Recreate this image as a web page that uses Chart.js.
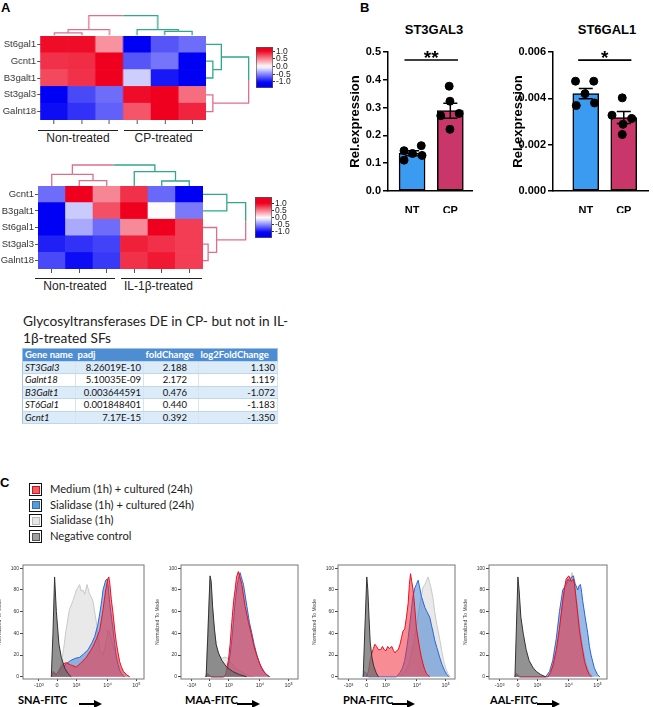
<!DOCTYPE html>
<html lang="en">
<head>
<meta charset="utf-8">
<title>Glycosyltransferases figure</title>
<script src="https://cdn.jsdelivr.net/npm/chart.js@4.4.1/dist/chart.umd.min.js"></script>
<style>
  body { margin: 0; background: #fff; }
  #page { position: relative; width: 653px; height: 707px; overflow: hidden; font-family: 'Liberation Sans', Arial, sans-serif; color: #000; }
  .abs { position: absolute; white-space: nowrap; }
  .letter { font-weight: bold; font-size: 13px; }
  .grp { font-size: 12px; color: #222; text-align: center; }
  .grp_line { border-top: 1.4px solid #222; height: 0; }
  .lato { font-family: Lato, 'Liberation Sans', sans-serif; }
  .fitc { font-weight: bold; font-size: 11px; font-family: Lato, 'Liberation Sans', sans-serif; }
  table.de { border-collapse: collapse; font-family: Lato, sans-serif; font-size: 9.5px; color: #111; border: 1px solid #9dc3e6; }
  table.de td { height: 11.5px; padding: 0 2px; border-bottom: 1px solid #bdd7ee; border-right: 1px solid #d6e4f2; line-height: 11px; }
  table.de tr.head td { background: #4f8dd3; color: #fff; font-weight: bold; border-right: 0; }
  table.de tr.alt td { background: #dcebf8; }
  table.de td.gene { font-style: italic; }
  table.de td.num { text-align: right; }
  .key { position: absolute; width: 11px; height: 11px; border: 1.3px solid #111; }
  .key i { position: absolute; left: 1.5px; top: 1.5px; width: 6px; height: 6px; border: 1px solid; }
</style>
</head>
<body>
<div id="page"></div>
<script>
// ================= DATA =================

// A - heatmaps (z-score, 3 non-treated + 3 treated samples per row)
var sample_ids = ['S1', 'S2', 'S3', 'S4', 'S5', 'S6'];

var hm1_rows = ['St6gal1', 'Gcnt1', 'B3galt1', 'St3gal3', 'Galnt18'];
var hm1_z = [
  [1.0, 1.0, 0.45, -1.1, -0.7, -0.6],
  [0.85, 0.87, 1.05, -0.7, -0.57, -1.1],
  [0.75, 0.85, 1.05, -0.2, -0.95, -1.1],
  [-1.1, -0.75, -0.6, 1.0, 1.05, 0.6],
  [-1.0, -0.85, -0.65, 0.7, 1.05, 0.9]
];
var hm1_groups = ['Non-treated', 'CP-treated'];
// dendrograms: [child a, child b, height]; leaves 0..n-1, merges numbered after
var hm1_col_tree = [[0, 1, 2.7], [6, 2, 6], [4, 5, 4.3], [3, 8, 6], [7, 9, 21]];
var hm1_col_cluster = [0, 0, 0, 1, 1, 1];
var hm1_row_tree = [[1, 2, 6.7], [0, 5, 15], [3, 4, 6.7], [6, 7, 41.7]];
var hm1_row_cluster = [1, 1, 1, 0, 0];
var hm1_scale = [-1.41, 1.29];

var hm2_rows = ['Gcnt1', 'B3galt1', 'St6gal1', 'St3gal3', 'Galnt18'];
var hm2_z = [
  [-0.6, 1.05, 0.5, 0.85, -0.62, -1.1],
  [-1.1, -0.22, 0.72, 1.1, 0.02, -0.55],
  [-1.1, -0.35, -0.6, 0.48, 1.05, 0.8],
  [-0.92, -0.85, -0.78, 0.92, 0.85, 0.8],
  [-0.75, -1.0, -0.82, 0.85, 0.95, 0.8]
];
var hm2_groups = ['Non-treated', 'IL-1\u03b2-treated'];
var hm2_col_tree = [[1, 2, 5.3], [0, 6, 11.7], [4, 5, 5], [3, 8, 14.3], [7, 9, 21]];
var hm2_col_cluster = [0, 0, 0, 1, 1, 1];
var hm2_row_tree = [[0, 1, 23.3], [3, 4, 5], [2, 6, 13.3], [5, 7, 41.7]];
var hm2_row_cluster = [1, 1, 0, 0, 0];
var hm2_scale = [-1.45, 1.5];

var scale_ticks = [1.0, 0.5, 0.0, -0.5, -1.0];

// A - table
var tbl_head = ['Gene name', 'padj', 'foldChange', 'log2FoldChange'];
var tbl_gene = ['ST3Gal3', 'Galnt18', 'B3Galt1', 'ST6Gal1', 'Gcnt1'];
var tbl_padj = ['8.26019E-10', '5.10035E-09', '0.003644591', '0.001848401', '7.17E-15'];
var tbl_fc = ['2.188', '2.172', '0.476', '0.440', '0.392'];
var tbl_log2 = ['1.130', '1.119', '-1.072', '-1.183', '-1.350'];

// B - qPCR
var bar_groups = ['NT', 'CP'];
var st3_mean = [0.136, 0.289];
var st3_sem = [0.009, 0.027];
var st3_nt = [0.145, 0.135, 0.163, 0.111, 0.128];
var st3_cp = [0.377, 0.323, 0.271, 0.279, 0.222];
var st6_mean = [0.0042, 0.00317];
var st6_sem = [0.00022, 0.00026];
var st6_nt = [0.00474, 0.00474, 0.0042, 0.00369, 0.0038];
var st6_cp = [0.00402, 0.00327, 0.00313, 0.00288, 0.00244];

// C - flow cytometry histograms, [channel, % of mode]
var legend_labels = ['Medium (1h) + cultured (24h)', 'Sialidase (1h) + cultured (24h)', 'Sialidase (1h)', 'Negative control'];
var x_tick_pos = [9, 24.5, 41, 67.5, 92];
var x_tick_lbl = ['-10\u00b3', '0', '10\u00b3', '10\u2074', '10\u2075'];
var y_tick_pos = [0, 20, 40, 60, 80, 100];

var sna_neg = [[19.6, 0], [21, 40], [22.4, 92], [23.9, 60], [26.1, 30], [28.1, 18], [31, 8], [33.8, 3], [36.6, 0]];
var sna_sial = [[22, 0], [25, 3], [28, 12], [30, 25], [32, 42], [35, 62], [38, 70], [41, 80], [43.7, 85], [45, 79], [46.6, 80], [48, 76], [50, 85], [52, 77], [55, 70], [58, 50], [60.8, 25], [63.6, 20], [66, 31], [68, 43], [69.3, 40], [72, 29], [75, 20], [77.8, 9], [82, 3], [86, 0]];
var sna_sial_cult = [[20, 0], [21.5, 4], [23, 2], [26, 4], [29.5, 9], [32.4, 12], [36, 15], [40, 17], [43.8, 18], [47, 21], [50.9, 25], [54, 31], [56.5, 37], [59, 47], [60.8, 58], [62.5, 70], [63.6, 80], [65.9, 89], [67, 90], [68, 84], [69.3, 68], [70.7, 56], [72.2, 43], [73.6, 30], [75, 18], [76.4, 11], [77.8, 6], [79.3, 3], [80.7, 1], [82, 0]];
var sna_medium = [[20, 0], [21, 5], [22.4, 4], [24, 2], [26, 6], [29.5, 12], [32.4, 13], [36, 11], [40.9, 9], [44, 12], [49.4, 18], [53, 24], [55.1, 28], [58, 35], [60.8, 43], [63.6, 62], [65.9, 80], [67.9, 91], [68.5, 92], [69.5, 85], [70.7, 71], [72.2, 58], [73.6, 43], [75, 31], [76.4, 22], [77.8, 14], [79.3, 9], [81, 5], [83.5, 2], [86.4, 0]];

var maa_neg = [[21.5, 0], [23, 40], [24.8, 93], [25.8, 88], [27, 65], [28.5, 45], [30, 30], [32, 22], [35, 15], [39, 9], [44, 5], [50, 2], [56, 0]];
var maa_sial = [[21.5, 0], [23, 45], [24.8, 90], [26, 80], [27.5, 55], [29, 38], [31, 25], [33, 19], [35, 17], [37, 18], [38.5, 18], [40, 17], [42, 14], [45, 10], [48, 7], [51, 5], [54, 3], [58, 1], [62, 0]];
var maa_medium = [[21, 0], [22.5, 2], [24, 1], [26, 0], [36, 0], [38, 2], [40.5, 15], [42, 30], [43.4, 50], [45, 70], [46.2, 80], [47.5, 92], [49, 97], [50, 93], [52, 85], [54.8, 65], [57.7, 50], [60, 40], [62, 30], [64, 22], [66.3, 15], [68, 10], [70.6, 5], [73, 2], [75, 0]];
var maa_sial_cult = [[21, 0], [22.5, 3], [24, 2], [26, 0], [37, 0], [39, 3], [42, 20], [43.5, 35], [44.8, 50], [46, 66], [47.7, 82], [49, 90], [50.5, 96], [51.5, 92], [53.4, 85], [56.3, 65], [58.5, 50], [60.6, 40], [62.5, 30], [64.9, 20], [67, 13], [69.2, 8], [71.5, 4], [73.5, 2], [76, 0]];

var pna_neg = [[21.5, 0], [23, 45], [24.6, 92], [25.5, 80], [26.5, 55], [27.5, 32], [29, 18], [30.5, 10], [32.5, 4], [34.5, 0]];
var pna_medium = [[24, 0], [26, 5], [27.4, 15], [29, 22], [30.2, 26], [31.5, 30], [33, 28], [34.5, 25], [36.5, 25], [38, 28], [39.5, 25], [41, 24], [42.5, 28], [44, 26], [46, 28], [47.5, 24], [48.7, 22], [50, 24], [51.5, 25], [53, 30], [54.3, 36], [55.5, 42], [57, 44], [58.5, 55], [60, 68], [61, 85], [62, 95], [63, 88], [64.2, 80], [65.5, 65], [67, 45], [68.5, 35], [70, 25], [71.5, 17], [72.7, 12], [74, 7], [75.6, 3], [78.4, 0]];
var pna_sial_cult = [[21.5, 0], [22.5, 5], [24, 3], [26, 0], [50, 0], [53, 4], [55, 8], [57, 15], [59, 28], [60, 36], [61.5, 50], [62.8, 62], [64, 74], [65.7, 82], [67, 85], [68.5, 89], [69.5, 84], [71.3, 74], [72.5, 70], [74.2, 64], [76, 60], [78.4, 55], [80, 47], [81.5, 40], [82.6, 34], [84.5, 27], [86.9, 18], [89, 11], [91, 6], [93, 2], [95, 0]];
var pna_sial = [[52, 0], [56, 3], [59, 8], [61.4, 15], [64, 28], [67, 45], [69, 60], [71.3, 75], [72.5, 82], [74.2, 85], [75.5, 88], [77, 92], [78, 88], [79.9, 80], [81.5, 70], [82.6, 60], [84.5, 48], [86.9, 35], [88.5, 25], [90.3, 15], [92, 8], [94, 3], [96, 0]];

var aal_neg = [[22, 0], [23.2, 45], [24.5, 92], [25.5, 80], [27, 55], [29, 40], [31.5, 25], [34, 15], [37, 9], [40, 5], [44, 2], [48, 0]];
var aal_sial = [[50, 0], [53, 4], [56, 15], [58.5, 32], [61, 55], [63, 75], [65, 87], [67, 90], [68.5, 88], [70.4, 96], [72, 88], [74, 72], [76.6, 48], [79.4, 27], [82.3, 12], [85, 4], [88, 0]];
var aal_medium = [[22, 0], [23, 3], [24.5, 2], [26, 0], [50, 0], [52, 4], [54, 10], [57, 25], [59.7, 45], [62.5, 70], [64, 82], [65.4, 90], [67.6, 93], [69.6, 88], [71.5, 90], [72.5, 85], [73.8, 72], [75.2, 58], [76.6, 43], [78, 33], [79.4, 24], [81, 14], [83, 7], [85, 2], [87, 0]];
var aal_sial_cult = [[22, 0], [23, 2], [24.5, 1], [26, 0], [48, 0], [51.3, 5], [54, 15], [57, 35], [59.7, 60], [62.5, 80], [65.4, 85], [67, 90], [68.2, 88], [70, 92], [71.5, 93], [73, 86], [75.2, 80], [76.3, 84], [77.5, 85], [78.5, 78], [79.4, 70], [81.5, 55], [83.7, 40], [85.1, 28], [86.5, 20], [89.3, 8], [92, 2], [94, 0]];

// ================= HELPERS =================
Chart.defaults.font.family = "'Liberation Sans', Arial, sans-serif";
Chart.defaults.animation = false;
Chart.defaults.responsive = true;
Chart.defaults.maintainAspectRatio = false;
Chart.defaults.events = [];
Chart.defaults.plugins.legend.display = false;
Chart.defaults.plugins.tooltip.enabled = false;

var page = document.getElementById('page');
var tree_colors = ['#de6f8c', '#2fa88c'];

function put_canvas(left, top, w, h) {
  var d = document.createElement('div');
  d.style.cssText = 'position:absolute;left:' + left + 'px;top:' + top + 'px;width:' + w + 'px;height:' + h + 'px';
  var c = document.createElement('canvas');
  d.appendChild(c);
  page.appendChild(d);
  return c;
}

function put_text(str, left, top, cls, css) {
  var d = document.createElement('div');
  d.className = 'abs ' + (cls || '');
  d.style.left = left + 'px';
  d.style.top = top + 'px';
  if (css) d.style.cssText += css;
  d.textContent = str;
  page.appendChild(d);
  return d;
}

function no_pad(s) { s.paddingTop = 0; s.paddingBottom = 0; s.paddingLeft = 0; s.paddingRight = 0; }

// blue - white - red
function z_color(z) {
  var t = Math.max(-1, Math.min(1, z / 1.05));
  if (t >= 0) {
    return 'rgb(' + Math.round(255 - 17 * t) + ',' + Math.round(255 * (1 - t)) + ',' + Math.round(255 - 225 * t) + ')';
  }
  t = -t;
  return 'rgb(' + Math.round(255 * (1 - t)) + ',' + Math.round(255 * (1 - t)) + ',' + Math.round(255 - 10 * t) + ')';
}

// heatmap = stacked bars, one dataset per gene row
function draw_heatmap(canvas, rows, z, label_w) {
  var n = rows.length;
  var datasets = [];
  for (var r = n - 1; r >= 0; r--) {
    datasets.push({
      label: rows[r],
      data: z[r].map(function () { return 1; }),
      backgroundColor: z[r].map(z_color),
      borderWidth: 0,
      barPercentage: 1,
      categoryPercentage: 1
    });
  }
  new Chart(canvas, {
    type: 'bar',
    data: { labels: sample_ids, datasets: datasets },
    options: {
      layout: { padding: 0 },
      scales: {
        x: {
          stacked: true,
          grid: { display: true, drawOnChartArea: false, offset: false, tickLength: 4, color: '#555' },
          border: { display: false },
          ticks: { display: false },
          afterFit: function (s) { s.height = 5; no_pad(s); }
        },
        y: {
          stacked: true, min: 0, max: n,
          afterBuildTicks: function (s) { s.ticks = rows.map(function (_, i) { return { value: i + 0.5 }; }); },
          ticks: { autoSkip: false, padding: 1, color: '#333', font: { size: 9.5 },
            callback: function (v, i) { return rows[n - 1 - i]; } },
          grid: { drawOnChartArea: false, tickLength: 3, color: '#555' },
          border: { display: false },
          afterFit: function (s) { s.width = label_w; no_pad(s); }
        }
      }
    }
  });
}

// dendrogram drawn as line paths from the merge table
function draw_tree(canvas, tree, clusters, on_top, h_max) {
  var n = clusters.length;
  var pos = [], hgt = [], col = [], datasets = [];
  for (var i = 0; i < n; i++) {
    pos.push(on_top ? i : n - 0.5 - i);
    hgt.push(0);
    col.push(tree_colors[clusters[i]]);
  }
  tree.forEach(function (m) {
    var mid = (pos[m[0]] + pos[m[1]]) / 2;
    [m[0], m[1]].forEach(function (c) {
      var path = [[pos[c], hgt[c]], [pos[c], m[2]], [mid, m[2]]];
      datasets.push({
        data: path.map(function (p) { return on_top ? { x: p[0], y: p[1] } : { x: p[1], y: p[0] }; }),
        showLine: true, borderColor: col[c], borderWidth: 1.3, pointRadius: 0, clip: false
      });
    });
    pos.push(mid);
    hgt.push(m[2]);
    col.push(col[m[0]] === col[m[1]] ? col[m[0]] : '#999');
  });
  var leaf_axis = on_top ? { min: -0.5, max: n - 0.5 } : { min: 0, max: n };
  var h_axis = { min: 0, max: h_max };
  new Chart(canvas, {
    type: 'scatter',
    data: { datasets: datasets },
    options: {
      layout: { padding: 0 },
      scales: {
        x: Object.assign({ display: false }, on_top ? leaf_axis : h_axis),
        y: Object.assign({ display: false }, on_top ? h_axis : leaf_axis)
      }
    }
  });
}

function draw_colorbar(canvas, range) {
  new Chart(canvas, {
    type: 'bar',
    data: {
      labels: [''],
      datasets: [{
        data: [range],
        borderColor: '#555', borderWidth: 1, borderSkipped: false,
        barPercentage: 1, categoryPercentage: 1,
        backgroundColor: function (ctx) {
          var c = ctx.chart;
          if (!c.chartArea) return null;
          var y = c.scales.y;
          var g = c.ctx.createLinearGradient(0, y.getPixelForValue(range[0]), 0, y.getPixelForValue(range[1]));
          for (var k = 0; k <= 20; k++) {
            var v = range[0] + (range[1] - range[0]) * k / 20;
            g.addColorStop(k / 20, z_color(v));
          }
          return g;
        }
      }]
    },
    options: {
      layout: { padding: { top: 3, bottom: 3 } },
      scales: {
        x: { display: false },
        y: {
          position: 'right', min: range[0], max: range[1],
          afterBuildTicks: function (s) { s.ticks = scale_ticks.map(function (v) { return { value: v }; }); },
          ticks: { autoSkip: false, padding: 1, color: '#222', font: { size: 8.5 },
            callback: function (v) { return v.toFixed(1); } },
          grid: { drawOnChartArea: false, tickLength: 2, color: '#333' },
          border: { display: false },
          afterFit: function (s) { s.width = 24; no_pad(s); }
        }
      }
    }
  });
}

// error bars + significance line for panel B
var bar_extras = {
  id: 'bar_extras',
  afterDatasetDraw: function (chart, args, o) {
    if (args.index !== 1) return;
    var ctx = chart.ctx, x = chart.scales.x, y = chart.scales.y;
    ctx.save();
    ctx.strokeStyle = '#000';
    ctx.lineWidth = 1.5;
    o.means.forEach(function (m, i) {
      var px = x.getPixelForValue(i);
      var top = y.getPixelForValue(m + o.sems[i]), bot = y.getPixelForValue(m - o.sems[i]);
      ctx.beginPath();
      ctx.moveTo(px, top); ctx.lineTo(px, bot);
      ctx.moveTo(px - 7, top); ctx.lineTo(px + 7, top);
      ctx.moveTo(px - 7, bot); ctx.lineTo(px + 7, bot);
      ctx.stroke();
    });
    ctx.restore();
  },
  afterDraw: function (chart, args, o) {
    var ctx = chart.ctx, x = chart.scales.x, y = chart.scales.y;
    var py = y.getPixelForValue(o.sig_y);
    ctx.save();
    ctx.strokeStyle = '#000';
    ctx.lineWidth = 1.6;
    ctx.beginPath();
    ctx.moveTo(x.getPixelForValue(-0.2), py);
    ctx.lineTo(x.getPixelForValue(1.2), py);
    ctx.stroke();
    ctx.fillStyle = '#000';
    ctx.font = "bold 19px 'Liberation Sans', Arial";
    ctx.textAlign = 'center';
    ctx.textBaseline = 'alphabetic';
    ctx.fillText(o.stars, x.getPixelForValue(0.5), py + 4);
    ctx.restore();
  }
};

function draw_bars(canvas, means, sems, nt, cp, jit, y_max, y_step, dec, x_range, sig_y, stars, y_w) {
  var pts = [];
  nt.forEach(function (v, k) { pts.push({ x: jit[0][k], y: v }); });
  cp.forEach(function (v, k) { pts.push({ x: 1 + jit[1][k], y: v }); });
  new Chart(canvas, {
    type: 'bar',
    data: {
      datasets: [
        { type: 'scatter', data: pts, pointRadius: 4, backgroundColor: '#000', borderColor: '#000', order: 0 },
        {
          data: means.map(function (m, i) { return { x: i, y: m }; }),
          backgroundColor: ['#3a9bf0', '#c8366a'],
          borderColor: '#000', borderWidth: 1.5, borderSkipped: false,
          barThickness: 26, order: 1
        }
      ]
    },
    plugins: [bar_extras],
    options: {
      layout: { padding: { top: 12 } },
      plugins: { bar_extras: { means: means, sems: sems, sig_y: sig_y, stars: stars } },
      scales: {
        x: {
          type: 'linear', offset: false, min: x_range[0], max: x_range[1],
          afterBuildTicks: function (s) { s.ticks = bar_groups.map(function (_, i) { return { value: i }; }); },
          ticks: { autoSkip: false, padding: 5, color: '#000', font: { size: 11, weight: 'bold' },
            callback: function (v, i) { return bar_groups[i]; } },
          grid: { display: false },
          border: { display: true, color: '#000', width: 1.5 },
          afterFit: function (s) { s.height = 22; no_pad(s); }
        },
        y: {
          min: 0, max: y_max,
          ticks: { stepSize: y_step, padding: 2, color: '#000', font: { size: 11, weight: 'bold' },
            callback: function (v) { return v.toFixed(dec); } },
          grid: { drawOnChartArea: false, tickLength: 5, color: '#000', lineWidth: 1.5 },
          border: { display: true, color: '#000', width: 1.5 },
          title: { display: true, text: 'Rel.expression', color: '#000', font: { size: 13, weight: 'bold' }, padding: { top: 4, bottom: 0 } },
          afterFit: function (s) { s.width = y_w; no_pad(s); }
        }
      }
    }
  });
}

// box around the flow plot area
var plot_box = {
  id: 'plot_box',
  afterDraw: function (chart) {
    var a = chart.chartArea, ctx = chart.ctx;
    ctx.save();
    ctx.strokeStyle = '#777';
    ctx.lineWidth = 1;
    ctx.strokeRect(a.left, a.top, a.right - a.left, a.bottom - a.top);
    ctx.restore();
  }
};

function draw_histo(canvas, medium, sial_cult, sial, neg, x_min, x_max) {
  function ds(data, line, fill, order) {
    return { data: data, showLine: true, fill: 'origin', borderColor: line, backgroundColor: fill,
      borderWidth: 1, pointRadius: 0, order: order };
  }
  new Chart(canvas, {
    type: 'scatter',
    data: {
      datasets: [
        ds(neg, '#333', 'rgba(110,110,110,0.75)', 0),
        ds(medium, '#e8101e', 'rgba(240,45,60,0.55)', 1),
        ds(sial_cult, '#2a64d6', 'rgba(70,130,205,0.55)', 2),
        ds(sial, '#c8c8c8', 'rgba(215,215,215,0.55)', 3)
      ]
    },
    plugins: [plot_box],
    options: {
      layout: { padding: { top: 5, right: 2 } },
      scales: {
        x: {
          min: x_min, max: x_max,
          afterBuildTicks: function (s) { s.ticks = x_tick_pos.map(function (v) { return { value: v }; }); },
          ticks: { autoSkip: false, maxRotation: 0, padding: 1, color: '#333', font: { size: 5.5 },
            callback: function (v, i) { return x_tick_lbl[i]; } },
          grid: { drawOnChartArea: false, tickLength: 2, color: '#444' },
          border: { display: false },
          afterFit: function (s) { s.height = 10; no_pad(s); }
        },
        y: {
          min: -2, max: 103,
          afterBuildTicks: function (s) { s.ticks = y_tick_pos.map(function (v) { return { value: v }; }); },
          ticks: { autoSkip: false, padding: 1, color: '#333', font: { size: 5 } },
          grid: { drawOnChartArea: false, tickLength: 3, color: '#444' },
          border: { display: false },
          title: { display: true, text: 'Normalized To Mode', color: '#444', font: { size: 5 }, padding: 0 },
          afterFit: function (s) { s.width = 26; no_pad(s); }
        }
      }
    }
  });
}

// ================= PANEL A =================
put_text('A', 1, 0, 'letter');

draw_heatmap(put_canvas(3, 36, 202.5, 89), hm1_rows, hm1_z, 37);
draw_tree(put_canvas(40, 14, 165.5, 22), hm1_col_tree, hm1_col_cluster, true, 22);
draw_tree(put_canvas(205.5, 36, 44, 84), hm1_row_tree, hm1_row_cluster, false, 43);
draw_colorbar(put_canvas(256, 44, 41, 47), hm1_scale);

put_text('', 38, 129.5, 'grp_line', 'width:80px');
put_text('', 124, 129.5, 'grp_line', 'width:79px');
put_text(hm1_groups[0], 38, 131, 'grp', 'width:80px');
put_text(hm1_groups[1], 124, 131, 'grp', 'width:79px');

draw_heatmap(put_canvas(1, 186, 202, 88), hm2_rows, hm2_z, 37);
draw_tree(put_canvas(38, 164, 165, 22), hm2_col_tree, hm2_col_cluster, true, 22);
draw_tree(put_canvas(203, 186, 44, 83), hm2_row_tree, hm2_row_cluster, false, 43);
draw_colorbar(put_canvas(255, 194, 41, 47), hm2_scale);

put_text('', 35, 277.5, 'grp_line', 'width:80px');
put_text('', 121, 277.5, 'grp_line', 'width:81px');
put_text(hm2_groups[0], 35, 279, 'grp', 'width:80px');
put_text(hm2_groups[1], 118, 279, 'grp', 'width:81px');

put_text('Glycosyltransferases DE in CP- but not in IL-', 23, 312, 'lato', 'font-size:13.7px;color:#222');
put_text('1\u03b2-treated SFs', 23, 329, 'lato', 'font-size:13.7px;color:#222');

// table
var tbl = '<table class="de"><colgroup><col style="width:53px"><col style="width:68px"><col style="width:55px"><col style="width:79px"></colgroup>';
tbl += '<tr class="head">' + tbl_head.map(function (h) { return '<td>' + h + '</td>'; }).join('') + '</tr>';
for (var r = 0; r < tbl_gene.length; r++) {
  tbl += '<tr class="' + (r % 2 === 0 ? 'alt' : '') + '"><td class="gene">' + tbl_gene[r] + '</td>' +
    '<td class="num">' + tbl_padj[r] + '</td>' +
    '<td class="num" style="padding-right:11px">' + tbl_fc[r] + '</td>' +
    '<td class="num">' + tbl_log2[r] + '</td></tr>';
}
tbl += '</table>';
var tbl_div = put_text('', 22, 348);
tbl_div.innerHTML = tbl;

// ================= PANEL B =================
put_text('B', 360, 0, 'letter');
put_text('ST3GAL3', 384, 22, '', 'width:100px;text-align:center;font-weight:bold;font-size:13px');
put_text('ST6GAL1', 557, 22, '', 'width:100px;text-align:center;font-weight:bold;font-size:13px');

// jitter of the dots around each bar centre (x units)
var st3_jit = [[-0.21, 0.01, 0.24, -0.21, 0.26], [-0.03, -0.01, -0.25, 0.23, -0.01]];
var st6_jit = [[-0.27, 0.21, -0.02, -0.25, 0.23], [-0.04, -0.31, 0.21, -0.02, -0.04]];

draw_bars(put_canvas(344, 40, 133, 173), st3_mean, st3_sem, st3_nt, st3_cp, st3_jit,
  0.5, 0.1, 1, [-0.63, 1.567], 0.471, '**', 44);
draw_bars(put_canvas(507, 40, 146, 173), st6_mean, st6_sem, st6_nt, st6_cp, st6_jit,
  0.006, 0.002, 3, [-0.8625, 1.6375], 0.00565, '*', 46);

// ================= PANEL C =================
put_text('C', 0, 475, 'letter');

var key_fill = ['#f25c62', '#5b9bd5', '#e6e6e6', '#a0a0a0'];
var key_edge = ['#c01a22', '#2e6fb0', '#bbbbbb', '#555555'];
legend_labels.forEach(function (lbl, i) {
  var top = 483 + i * 15.7;
  var k = document.createElement('div');
  k.className = 'key';
  k.style.left = '29px';
  k.style.top = top + 'px';
  k.innerHTML = '<i style="background:' + key_fill[i] + ';border-color:' + key_edge[i] + '"></i>';
  page.appendChild(k);
  put_text(lbl, 50, top - 1, 'lato', 'font-size:11.2px;color:#222');
});

draw_histo(put_canvas(-3, 560, 149, 129), sna_medium, sna_sial_cult, sna_sial, sna_neg, -4.5, 98.5);
draw_histo(put_canvas(155, 560, 145, 129), maa_medium, maa_sial_cult, maa_sial, maa_neg, 0, 100);
draw_histo(put_canvas(312, 560, 145, 129), pna_medium, pna_sial_cult, pna_sial, pna_neg, 0, 100);
draw_histo(put_canvas(463, 560, 146, 129), aal_medium, aal_sial_cult, aal_sial, aal_neg, 0, 100);

function fitc_label(str, left, arrow_left) {
  put_text(str, left, 693, 'fitc');
  var a = document.createElement('div');
  a.className = 'abs';
  a.style.left = arrow_left + 'px';
  a.style.top = '695px';
  a.innerHTML = '<svg width="24" height="10"><line x1="0" y1="5" x2="16" y2="5" stroke="#000" stroke-width="2"/><polygon points="15,1 23,5 15,9" fill="#000"/></svg>';
  page.appendChild(a);
}
fitc_label('SNA-FITC', 18, 79);
fitc_label('MAA-FITC', 185, 237);
fitc_label('PNA-FITC', 343, 392);
fitc_label('AAL-FITC', 490, 537);
</script>
</body>
</html>
